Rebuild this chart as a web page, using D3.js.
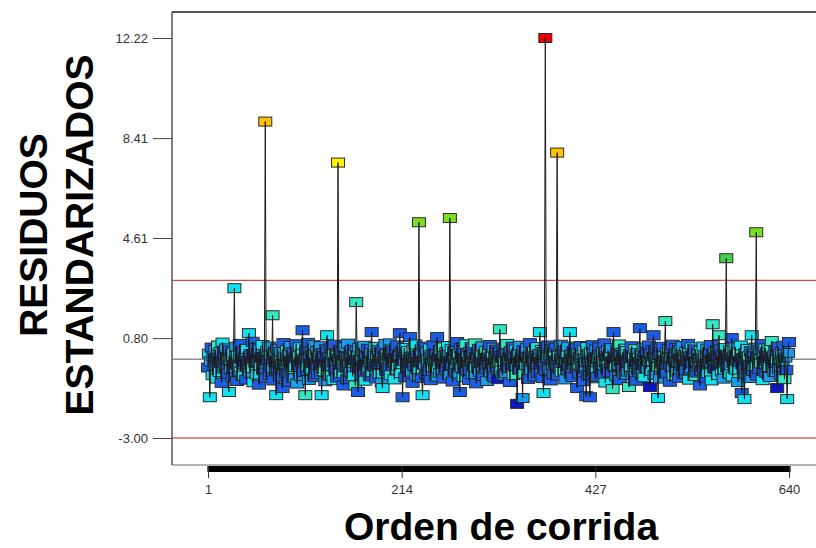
<!DOCTYPE html>
<html>
<head>
<meta charset="utf-8">
<script src="https://cdn.jsdelivr.net/npm/d3@7"></script>
<style>
  html, body { margin: 0; padding: 0; background: #fff; overflow: hidden; }
  svg { display: block; }
</style>
</head>
<body>
<svg id="chart" width="816" height="548"></svg>
<script>
// Residuos estandarizados por orden de corrida (640 corridas)
const residuos = [
  -0.32, 0.21, -1.45, -0.08, 0.44, -0.61, 0.12, -0.27, 0.35, -0.74, 0.05, 0.52, -0.18, -0.49, 0.28, -0.90, 0.63, -0.11, -0.36, 0.17,
  0.41, -0.55, -0.02, -1.25, 0.33, -0.40, 0.08, -0.69, 0.25, 2.70, -0.15, 0.47, -0.83, 0.14, -0.29, 0.58, -0.47, 0.02, -0.63, 0.30,
  -0.21, 0.11, -0.78, 0.39, -0.06, 0.99, -0.52, 0.19, -0.34, 0.66, -0.88, 0.07, -0.13, 0.43, -0.58, 0.24, -0.97, 0.36, -0.25, 0.09,
  0.54, -0.42, -0.16, 9.04, -0.71, 0.31, -0.05, 0.48, -0.60, 0.15, -0.33, 1.67, -0.81, 0.22, -0.10, -1.37, 0.40, -0.45, 0.03, -0.67,
  0.27, -0.19, -1.10, 0.61, -0.38, 0.10, -0.54, 0.34, -0.86, 0.18, -0.07, 0.50, -0.44, 0.26, -0.72, 0.06, -0.30, 0.57, -0.93, 0.13,
  -0.24, 0.45, -0.64, 0.20, 1.10, -0.50, 0.01, -1.37, 0.37, -0.28, 0.62, -0.79, 0.09, -0.41, 0.29, -0.14, 0.53, -0.68, 0.16, -0.35,
  0.32, -0.57, 0.04, -0.20, 0.49, -1.37, 0.23, -0.46, 0.12, -0.84, 0.38, 0.91, -0.26, 0.07, -0.62, 0.42, -0.12, 0.19, -0.80, 0.55,
  -0.39, 0.14, -0.70, 7.48, -0.09, 0.33, -0.53, 0.26, -0.17, -1.00, 0.46, -0.31, 0.08, -0.76, 0.59, -0.22, 0.11, -0.48, 0.35, -0.65,
  0.18, -0.04, -1.00, 2.17, 0.27, -1.25, 0.44, -0.37, 0.02, -0.59, 0.30, -0.23, 0.51, -0.82, 0.13, -0.43, 0.39, -0.11, -0.66, 0.22,
  1.03, -0.50, 0.15, -0.28, 0.47, -0.73, 0.06, -0.19, 0.34, -0.56, 0.25, -0.89, -1.10, 0.40, -0.08, 0.58, -0.44, 0.17, -0.32, 0.10,
  0.60, -0.61, 0.21, -0.14, 0.36, -0.77, 0.03, -0.40, 0.52, -0.25, 0.12, 0.99, -0.53, 0.28, -1.45, -0.06, 0.43, -0.69, 0.19, -0.35,
  0.31, -0.16, 0.84, -0.47, 0.09, -0.90, 0.37, -0.27, 0.56, -0.63, 0.14, -0.38, 5.21, -0.12, 0.24, -0.71, -1.37, 0.48, -0.21, 0.05,
  -0.58, 0.29, -0.03, -0.45, 0.41, -0.80, 0.16, -0.30, 0.53, -0.09, 0.20, -0.66, 0.84, -0.36, 0.07, -0.52, 0.33, -0.18, 0.45, -0.74,
  0.13, -0.41, 0.26, -0.13, 0.50, -0.60, 5.37, -0.24, 0.38, -0.85, 0.04, -0.46, 0.31, -0.17, 0.65, -0.55, 0.22, -1.25, 0.42, -0.33,
  0.08, -0.68, 0.35, -0.20, 0.57, -0.43, 0.11, -0.79, 0.27, -0.05, 0.46, -0.57, 0.18, -0.31, 0.60, -0.92, 0.02, -0.26, 0.39, -0.48,
  0.23, -0.10, 0.49, -0.64, 0.15, -0.37, 0.32, -0.83, 0.06, -0.22, 0.54, -0.51, 0.17, -0.29, 0.44, -0.70, 0.10, -0.15, 0.36, -0.76,
  0.28, 1.14, -0.44, 0.12, -0.62, 0.40, -0.07, 0.25, -0.53, 0.58, -0.34, 0.03, -0.87, 0.30, -0.19, 0.47, -0.60, 0.14, -0.27, 0.37,
  -1.70, 0.20, -0.39, 0.51, -0.12, 0.09, -1.48, 0.34, -0.56, 0.16, -0.23, 0.43, -0.75, 0.05, 0.61, -0.42, 0.22, -0.10, 0.30, -0.66,
  0.11, -0.30, 0.46, -0.52, 0.19, 1.03, -0.17, 0.35, -0.72, -1.29, 0.27, 12.22, -0.45, 0.08, 0.52, -0.36, 0.14, -0.81, 0.39, -0.04,
  -0.58, 0.24, -0.21, 0.44, 7.86, -0.63, 0.13, -0.33, 0.55, -0.48, 0.06, -0.14, 0.32, -0.77, 0.21, -0.40, 0.48, -0.25, 1.03, -0.54,
  0.17, -0.68, 0.29, -0.09, 0.41, -0.35, -1.10, 0.22, -0.55, 0.07, 0.50, -0.28, 0.15, -0.84, 0.34, -0.12, -1.41, 0.46, -0.61, 0.19,
  -1.45, 0.26, -0.18, 0.53, -0.46, 0.10, -0.73, 0.37, -0.68, 0.04, 0.45, -0.32, 0.18, -0.57, 0.28, -0.07, 0.60, -0.89, 0.12, -0.39,
  0.33, -0.50, 0.21, -0.15, 0.42, -1.14, 1.03, -0.27, 0.09, -0.65, 0.36, -0.22, 0.56, -0.79, 0.14, -0.34, 0.25, -0.02, -0.59, 0.40,
  -0.13, 0.31, -0.47, -1.06, 0.19, -0.30, 0.49, -0.62, 0.08, -0.19, 0.38, -0.82, 0.23, -0.41, 0.05, 1.18, -0.53, 0.15, -0.24, 0.44,
  -0.69, 0.12, -0.36, 0.27, -0.08, 0.52, -1.06, 0.20, -0.45, 0.34, 0.91, -0.60, 0.03, -0.29, 0.41, -1.48, 0.16, -0.74, 0.30, -0.16,
  0.47, -0.38, 0.11, 1.45, -0.54, 0.24, -0.20, 0.39, -0.86, 0.07, -0.31, 0.55, -0.63, 0.18, -0.11, 0.43, -0.48, 0.26, -0.71, 0.02,
  0.35, -0.25, 0.50, -0.57, 0.14, -0.42, 0.29, -0.05, 0.58, -0.78, 0.10, -0.34, 0.45, -0.16, 0.22, -0.64, 0.37, -0.09, -0.51, 0.19,
  -0.28, -1.00, 0.31, -0.44, 0.06, 0.48, -0.70, 0.16, -0.21, 0.40, -0.53, 0.25, -0.13, 0.54, -0.81, 1.33, 0.09, -0.35, 0.28, -0.38,
  0.13, -0.60, 0.91, -0.18, 0.36, -0.47, 0.20, -0.74, 0.42, -0.06, 3.84, -0.32, 0.15, -0.55, 0.33, -0.24, 0.80, -0.66, 0.07, -0.14,
  0.46, -0.40, 0.18, -0.87, 0.27, -0.11, 0.52, -1.29, 0.04, -0.36, -1.52, 0.23, -0.58, 0.39, -0.19, 0.11, -0.72, 0.30, 0.91, -0.45,
  0.21, -0.27, 0.44, 4.83, -0.63, 0.08, -0.38, 0.35, -0.16, 0.57, -0.80, 0.17, -0.07, 0.41, -0.52, 0.26, -0.30, 0.12, -0.68, 0.37,
  0.69, -0.22, 0.14, -0.49, 0.32, -0.03, -1.10, 0.47, -0.35, 0.19, -0.61, 0.28, -0.12, 0.51, -0.76, 0.06, -0.41, -1.52, 0.24, 0.65
];

// Nivel de la respuesta de cada corrida (0 = bajo ... 9 = alto), usado para el color
const nivelRespuesta = (
  "13321312231413213121" + "21331241331213214131" + "12131321413121301231" + "31281312132413132141" +
  "23113214131231213124" + "13231124131213412131" + "21312314121321312431" + "13172131412131231213" +
  "21443121314123121312" + "13213141231231321312" + "23121314132131123121" + "31123141321361213123" +
  "12313124131213123141" + "31213261314123123112" + "13124131231213412312" + "31213142131231213410" +
  "14312131241312314123" + "03123121413213121341" + "21312314132913123121" + "13218131241312312131" +
  "31231412131231421312" + "13213142131231241312" + "21312413121341213123" + "13241312314121312312" +
  "31213102311234131213" + "12341312132141312312" + "31214132131231241312" + "21312314123121341230" +
  "13421312315213421312" + "23124131213123142131" + "13261312413213123124" + "41321301231231421321"
).split("").map(Number);

const ticksY = [-3.00, 0.80, 4.61, 8.41, 12.22];
const ticksX = [1, 214, 427, 640];
const limites = [-3, 3];
const tituloY = ["RESIDUOS", "ESTANDARIZADOS"];
const tituloX = "Orden de corrida";

const datos = residuos.map((r, i) => ({ corrida: i + 1, residuo: r, nivel: nivelRespuesta[i] }));

const svg = d3.select("#chart");
const W = 816;
const marco = { left: 172, top: 12, bottom: 465 };

const x = d3.scaleLinear().domain([1, 640]).range([208, 789]);
const y = d3.scaleLinear().domain([-3, 12.22]).range([438, 38]);
const color = d3.scaleLinear()
  .domain([0, 1, 2, 3, 4, 5, 6, 7, 8, 9])
  .range(["#0a16c8", "#1a5ee8", "#189cf0", "#10e2f0", "#30e8c2", "#44d24a", "#7ce020", "#fff000", "#ffc400", "#e60000"]);

const font = "'Liberation Sans', Arial, sans-serif";
// Rótulos con guion simple para los negativos
const fmt2 = v => d3.format(".2f")(v).replace("\u2212", "-");

// Marco del gráfico
svg.append("line").attr("x1", marco.left).attr("x2", W).attr("y1", marco.top).attr("y2", marco.top)
  .attr("stroke", "#555").attr("stroke-width", 2);
svg.append("line").attr("x1", marco.left).attr("x2", marco.left).attr("y1", marco.top).attr("y2", marco.bottom)
  .attr("stroke", "#555").attr("stroke-width", 1.5);
svg.append("line").attr("x1", marco.left).attr("x2", W).attr("y1", marco.bottom).attr("y2", marco.bottom)
  .attr("stroke", "#666").attr("stroke-width", 1);

// Eje Y
const ejeY = svg.append("g").attr("transform", `translate(${marco.left},0)`)
  .call(d3.axisLeft(y).tickValues(ticksY).tickFormat(fmt2).tickSize(19).tickPadding(5));
ejeY.select(".domain").remove();
ejeY.selectAll(".tick line").attr("stroke", "#444");
ejeY.selectAll(".tick text").attr("font-family", font).attr("font-size", 13).attr("fill", "#333");

// Líneas de referencia: cero y límites
svg.append("line").attr("x1", marco.left).attr("x2", W).attr("y1", y(0)).attr("y2", y(0))
  .attr("stroke", "#555").attr("stroke-width", 1);
svg.selectAll("line.limite").data(limites).join("line").attr("class", "limite")
  .attr("x1", marco.left).attr("x2", W).attr("y1", d => y(d)).attr("y2", d => y(d))
  .attr("stroke", "#c42020").attr("stroke-width", 1);

// Eje X: una marca por corrida y marcas rotuladas
const ejeMenor = svg.append("g").attr("transform", `translate(0,${marco.bottom + 1})`)
  .call(d3.axisBottom(x).tickValues(datos.map(d => d.corrida)).tickSize(6).tickFormat(""));
ejeMenor.select(".domain").remove();
ejeMenor.selectAll(".tick line").attr("stroke", "#000").attr("stroke-width", 2.2);

const ejeX = svg.append("g").attr("transform", `translate(0,${marco.bottom + 1})`)
  .call(d3.axisBottom(x).tickValues(ticksX).tickSize(12).tickPadding(7));
ejeX.select(".domain").remove();
ejeX.selectAll(".tick line").attr("stroke", "#333");
ejeX.selectAll(".tick text").attr("font-family", font).attr("font-size", 13).attr("fill", "#333");

// Marcadores
const mw = 13, mh = 9;
svg.append("g").selectAll("rect").data(datos).join("rect")
  .attr("x", d => x(d.corrida) - mw / 2)
  .attr("y", d => y(d.residuo) - mh / 2)
  .attr("width", mw).attr("height", mh)
  .attr("fill", d => color(d.nivel))
  .attr("stroke", "#2a2a2a").attr("stroke-width", 1);

// Línea que une las corridas en orden
svg.append("path").datum(datos)
  .attr("fill", "none").attr("stroke", "#1a1a1a").attr("stroke-width", 1)
  .attr("d", d3.line().x(d => x(d.corrida)).y(d => y(d.residuo)));

// Títulos
const gy = svg.append("g").attr("transform", "translate(0,235) rotate(-90)");
gy.selectAll("text").data(tituloY).join("text")
  .attr("x", 0).attr("y", (d, i) => 47 + i * 46)
  .attr("text-anchor", "middle")
  .attr("font-family", font).attr("font-weight", "bold").attr("font-size", 39).attr("fill", "#000")
  .text(d => d);

svg.append("text").attr("x", 501).attr("y", 540).attr("text-anchor", "middle")
  .attr("font-family", font).attr("font-weight", "bold").attr("font-size", 39).attr("fill", "#000")
  .text(tituloX);
</script>
</body>
</html>
